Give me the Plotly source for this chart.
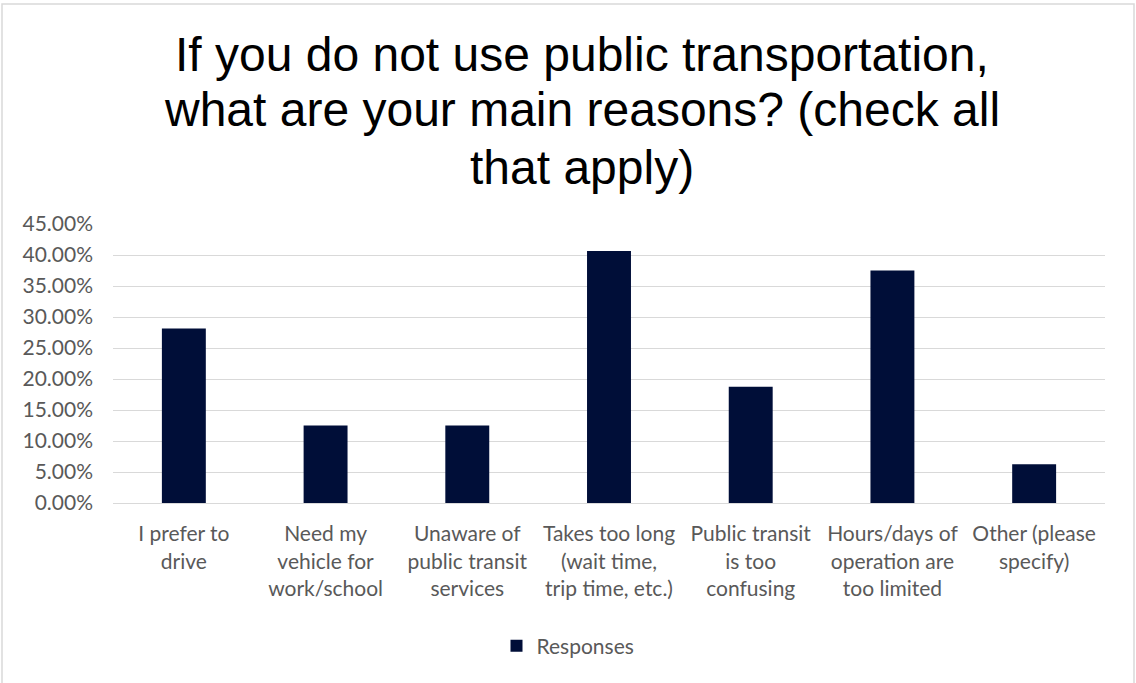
import plotly.graph_objects as go

# Survey responses: reasons for not using public transportation
categories = [
    "I prefer to<br>drive",
    "Need my<br>vehicle for<br>work/school",
    "Unaware of<br>public transit<br>services",
    "Takes too long<br>(wait time,<br>trip time, etc.)",
    "Public transit<br>is too<br>confusing",
    "Hours/days of<br>operation are<br>too limited",
    "Other (please<br>specify)",
]
responses = [0.2813, 0.125, 0.125, 0.4063, 0.1875, 0.375, 0.0625]
y_ticks = [0, 0.05, 0.10, 0.15, 0.20, 0.25, 0.30, 0.35, 0.40, 0.45]

title_lines = [
    "If you do not use public transportation,",
    "what are your main reasons? (check all",
    "that apply)",
]

W, H = 1136, 683
left, right, top, bottom = 113, 31, 224, 180
plot_w = W - left - right
plot_h = H - top - bottom


def px_x(px):
    return (px - left) / plot_w


def px_y(py):
    return (H - bottom - py) / plot_h


fig = go.Figure()
fig.add_trace(go.Bar(
    x=categories,
    y=responses,
    name="Responses",
    marker=dict(color="#000e38", line=dict(width=0)),
    width=0.31,
    showlegend=True,
))

fig.update_layout(
    width=W, height=H,
    margin=dict(l=left, r=right, t=top, b=bottom),
    paper_bgcolor="white",
    plot_bgcolor="white",
    font=dict(family="Lato, Carlito, sans-serif", color="#595959", size=21),
    showlegend=True,
    legend=dict(
        orientation="h",
        x=px_x(568), xanchor="center",
        y=px_y(646), yanchor="middle",
        font=dict(size=21, color="#595959"),
        itemwidth=30,
    ),
)

fig.update_yaxes(
    range=[0, 0.45],
    tickvals=y_ticks,
    ticktext=[f"{v*100:.2f}%" for v in y_ticks],
    showgrid=True, gridcolor="#d9d9d9", gridwidth=1,
    zeroline=False, showline=False,
    ticks="", ticklen=0,
    ticklabelstandoff=19,
    tickfont=dict(size=21, color="#595959"),
)
fig.update_xaxes(
    showgrid=False, zeroline=False,
    showline=True, linecolor="#d9d9d9", linewidth=1,
    ticks="", tickangle=0,
    ticklabelstandoff=12,
    tickfont=dict(size=21, color="#595959"),
)

# Chart title, one annotation per line for tight line spacing
for line, cy in zip(title_lines, [54, 110, 167]):
    fig.add_annotation(
        text=line,
        xref="paper", yref="paper",
        x=px_x(582), y=px_y(cy),
        xanchor="center", yanchor="middle",
        showarrow=False,
        font=dict(family="Liberation Sans, Arial, sans-serif", size=48, color="black"),
    )

# Light border around the chart area
fig.add_shape(
    type="rect", xref="paper", yref="paper",
    x0=px_x(2), x1=px_x(1134),
    y0=px_y(690), y1=px_y(4),
    line=dict(color="#d9d9d9", width=1.5),
    fillcolor="rgba(0,0,0,0)",
    layer="below",
)

fig.write_html("out.html")
